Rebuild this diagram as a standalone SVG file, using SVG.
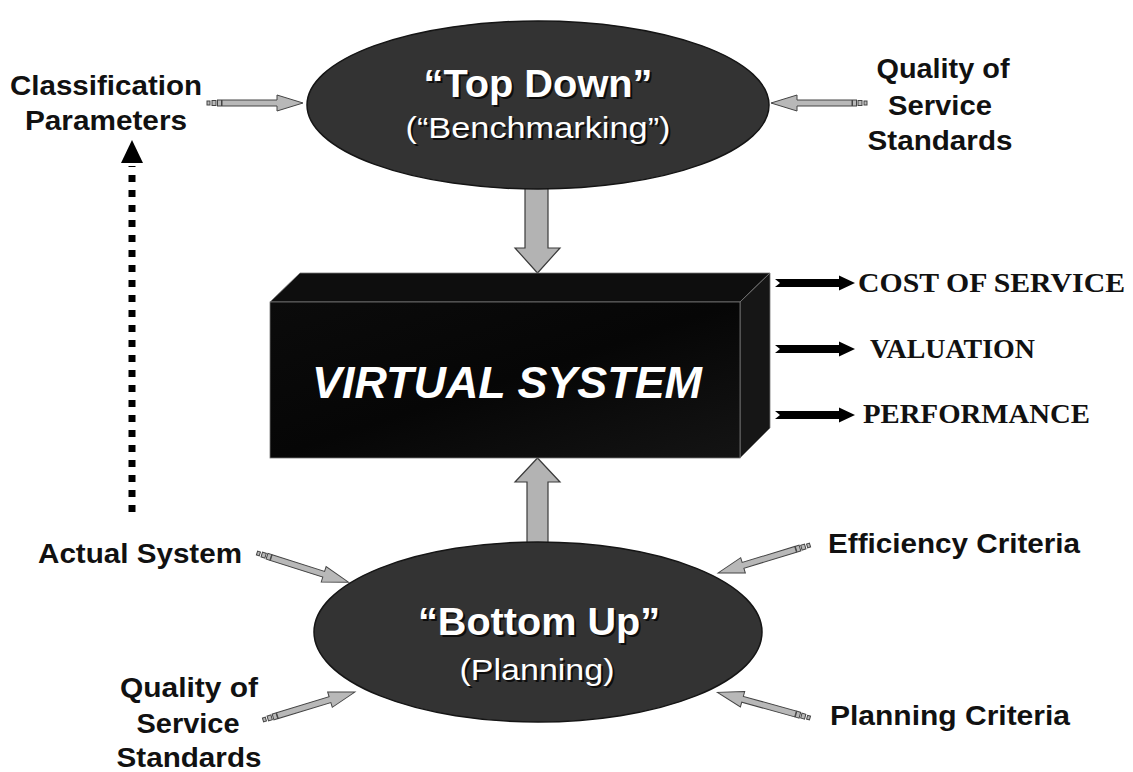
<svg xmlns="http://www.w3.org/2000/svg" width="1133" height="772" viewBox="0 0 1133 772">
  <style>
    .lbl { font-family: "Liberation Sans", Arial, sans-serif; font-weight: bold; font-size: 27px; fill: #111; }
    .out { font-family: "Liberation Serif", "Times New Roman", serif; font-weight: bold; font-size: 27px; fill: #111; }
    .ell { fill: #333333; stroke: #151515; stroke-width: 1.5; }
    .head { font-family: "Liberation Sans", Arial, sans-serif; font-weight: bold; font-size: 38px; fill: #ffffff; }
    .sub { font-family: "Liberation Sans", Arial, sans-serif; font-size: 30px; fill: #ffffff; }
    .shadow { fill: #0d0d0d; }
    .block { fill: #b3b3b3; stroke: #3a3a3a; stroke-width: 1.2; }
    .feed { fill: #b8b8b8; stroke: #444; stroke-width: 1; }
    .out-arrow { fill: #000; }
  </style>
  <defs>
    <!-- thin grey input arrow: tail at origin, tip at x=96 -->
    <g id="feed-arrow">
      <rect class="feed" x="0" y="-2" width="3" height="4"/>
      <rect class="feed" x="5" y="-2.5" width="4" height="5"/>
      <rect class="feed" x="10.5" y="-3" width="4" height="6"/>
      <polygon class="feed" points="15,-3 70,-3 70,-8 96,0 70,8 70,3 15,3"/>
    </g>
    <!-- black output arrow with notched tail -->
    <polygon id="out-arrow" class="out-arrow" points="0,-4 64,-4 64,-7.5 80,0 64,7.5 64,4 0,4 5,0"/>
    <linearGradient id="front" x1="0" y1="0" x2="1" y2="1">
      <stop offset="0" stop-color="#0b0b0b"/>
      <stop offset="0.5" stop-color="#060606"/>
      <stop offset="1" stop-color="#141414"/>
    </linearGradient>
  </defs>

  <rect width="1133" height="772" fill="#ffffff"/>

  <!-- connectors -->
  <g id="connectors">
    <!-- top-down block arrow -->
    <polygon class="block" points="525,188 548,188 548,248 560,248 537.5,273 515,248 525,248"/>
    <!-- bottom-up block arrow -->
    <polygon class="block" points="527,543 548,543 548,482 560,482 537.5,458 515,482 527,482"/>
    <!-- feedback dotted arrow -->
    <line x1="132" y1="512" x2="132" y2="166" stroke="#000" stroke-width="7" stroke-dasharray="7 8"/>
    <polygon points="132,140 143,163 121,163" fill="#000"/>
    <!-- inputs -->
    <use href="#feed-arrow" transform="translate(207,103)"/>
    <use href="#feed-arrow" transform="translate(867,103) rotate(180)"/>
    <use href="#feed-arrow" transform="translate(257,553) rotate(17.7)"/>
    <use href="#feed-arrow" transform="translate(263,720) rotate(-16.9)"/>
    <use href="#feed-arrow" transform="translate(810,545) rotate(163.1)"/>
    <use href="#feed-arrow" transform="translate(810,718) rotate(195.5)"/>
    <!-- outputs -->
    <use href="#out-arrow" transform="translate(775,283)"/>
    <use href="#out-arrow" transform="translate(775,349)"/>
    <use href="#out-arrow" transform="translate(775,415)"/>
  </g>

  <g id="top-down">
    <ellipse class="ell" cx="538" cy="105" rx="231" ry="84"/>
    <text class="head shadow" x="540" y="99" text-anchor="middle" textLength="229" lengthAdjust="spacingAndGlyphs">“Top Down”</text>
    <text class="head" x="538" y="97" text-anchor="middle" textLength="229" lengthAdjust="spacingAndGlyphs">“Top Down”</text>
    <text class="sub shadow" x="540" y="140" text-anchor="middle" textLength="265" lengthAdjust="spacingAndGlyphs">(“Benchmarking”)</text>
    <text class="sub" x="538" y="138" text-anchor="middle" textLength="265" lengthAdjust="spacingAndGlyphs">(“Benchmarking”)</text>
  </g>

  <g id="virtual-system">
    <polygon points="270,302 300,273 770,273 740,302" fill="#0e0e0e" stroke="#777" stroke-width="0.8"/>
    <polygon points="740,302 770,273 770,428 740,458" fill="#161616" stroke="#777" stroke-width="0.8"/>
    <rect x="270" y="302" width="470" height="156" fill="url(#front)" stroke="#777" stroke-width="0.8"/>
    <text x="312" y="398" font-family="Liberation Sans, Arial, sans-serif" font-weight="bold" font-style="italic" font-size="44" fill="#ffffff" textLength="390" lengthAdjust="spacingAndGlyphs">VIRTUAL SYSTEM</text>
  </g>

  <g id="bottom-up">
    <ellipse class="ell" cx="538" cy="632" rx="224" ry="90"/>
    <text class="head shadow" x="541" y="637" text-anchor="middle" textLength="242" lengthAdjust="spacingAndGlyphs">“Bottom Up”</text>
    <text class="head" x="539" y="635" text-anchor="middle" textLength="242" lengthAdjust="spacingAndGlyphs">“Bottom Up”</text>
    <text class="sub shadow" x="539" y="682" text-anchor="middle" textLength="155" lengthAdjust="spacingAndGlyphs">(Planning)</text>
    <text class="sub" x="537" y="680" text-anchor="middle" textLength="155" lengthAdjust="spacingAndGlyphs">(Planning)</text>
  </g>

  <g id="classification-parameters">
    <text class="lbl" x="106" y="95" text-anchor="middle" textLength="192" lengthAdjust="spacingAndGlyphs">Classification</text>
    <text class="lbl" x="106" y="130" text-anchor="middle" textLength="162" lengthAdjust="spacingAndGlyphs">Parameters</text>
  </g>

  <g id="qos-top">
    <text class="lbl" x="943" y="78" text-anchor="middle" textLength="133" lengthAdjust="spacingAndGlyphs">Quality of</text>
    <text class="lbl" x="940" y="115" text-anchor="middle" textLength="104" lengthAdjust="spacingAndGlyphs">Service</text>
    <text class="lbl" x="940" y="150" text-anchor="middle" textLength="145" lengthAdjust="spacingAndGlyphs">Standards</text>
  </g>

  <g id="outputs">
    <text class="out" x="858" y="292" textLength="267" lengthAdjust="spacingAndGlyphs">COST OF SERVICE</text>
    <text class="out" x="870" y="358" textLength="165" lengthAdjust="spacingAndGlyphs">VALUATION</text>
    <text class="out" x="863" y="423" textLength="227" lengthAdjust="spacingAndGlyphs">PERFORMANCE</text>
  </g>

  <g id="actual-system">
    <text class="lbl" x="38" y="563" textLength="204" lengthAdjust="spacingAndGlyphs">Actual System</text>
  </g>

  <g id="qos-bottom">
    <text class="lbl" x="189" y="697" text-anchor="middle" textLength="138" lengthAdjust="spacingAndGlyphs">Quality of</text>
    <text class="lbl" x="188" y="733" text-anchor="middle" textLength="103" lengthAdjust="spacingAndGlyphs">Service</text>
    <text class="lbl" x="189" y="767" text-anchor="middle" textLength="145" lengthAdjust="spacingAndGlyphs">Standards</text>
  </g>

  <g id="efficiency-criteria">
    <text class="lbl" x="828" y="553" textLength="252" lengthAdjust="spacingAndGlyphs">Efficiency Criteria</text>
  </g>

  <g id="planning-criteria">
    <text class="lbl" x="830" y="725" textLength="240" lengthAdjust="spacingAndGlyphs">Planning Criteria</text>
  </g>
</svg>
